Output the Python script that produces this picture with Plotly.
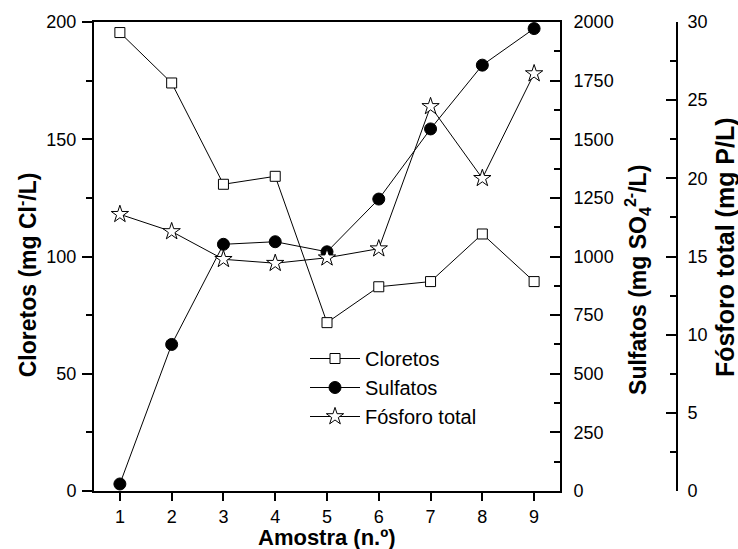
import plotly.graph_objects as go

amostra = [1, 2, 3, 4, 5, 6, 7, 8, 9]
cloretos = [195.5, 174.0, 130.8, 134.2, 71.8, 87.1, 89.3, 109.6, 89.3]
sulfatos = [30, 625, 1052, 1063, 1020, 1245, 1544, 1816, 1972]
fosforo = [17.7, 16.6, 14.82, 14.57, 14.92, 15.5, 24.6, 20.0, 26.7]

FONT = "Liberation Sans, Arial, sans-serif"
W, H = 738, 549
ML, MR, MT, MB = 94, 10, 22, 58
PW = W - ML - MR
PH = H - MT - MB
XEND = (560 - ML) / PW
Y3POS = (677 - ML) / PW

fig = go.Figure()
fig.add_trace(go.Scatter(
    x=amostra, y=cloretos, name="Cloretos", mode="lines+markers",
    line=dict(color="black", width=1),
    marker=dict(symbol="square", size=10, color="white", line=dict(color="black", width=1)),
    yaxis="y"))
fig.add_trace(go.Scatter(
    x=amostra, y=sulfatos, name="Sulfatos", mode="lines+markers",
    line=dict(color="black", width=1),
    marker=dict(symbol="circle", size=12, color="black", line=dict(color="black", width=1)),
    yaxis="y2"))
fig.add_trace(go.Scatter(
    x=amostra, y=fosforo, name="Fósforo total", mode="lines+markers",
    line=dict(color="black", width=1),
    marker=dict(symbol="star", size=13, color="white", line=dict(color="black", width=1)),
    yaxis="y3"))

tickfont = dict(family=FONT, size=18, color="black")
fig.update_layout(
    width=W, height=H,
    margin=dict(l=ML, r=MR, t=MT, b=MB),
    paper_bgcolor="white", plot_bgcolor="white",
    font=dict(family=FONT, color="black"),
    showlegend=True,
    legend=dict(x=(305 - ML) / PW, y=1 - (339 - MT) / PH, xanchor="left", yanchor="top",
                bgcolor="rgba(0,0,0,0)", font=dict(family=FONT, size=20, color="black"),
                itemwidth=50, tracegroupgap=0),
    xaxis=dict(domain=[0, XEND], range=[0.5, 9.5], tickvals=amostra,
               ticks="outside", ticklen=8, tickwidth=2, tickcolor="black",
               showline=True, linewidth=2, linecolor="black", mirror=True,
               showgrid=False, zeroline=False, tickfont=tickfont),
    yaxis=dict(range=[0, 200], dtick=50, ticks="outside", ticklen=10, tickwidth=2,
               tickcolor="black", showline=True, linewidth=2, linecolor="black",
               minor=dict(dtick=25, ticks="outside", ticklen=6, tickwidth=2, tickcolor="black"),
               showgrid=False, zeroline=False, tickfont=tickfont, ticklabelstandoff=2),
    yaxis2=dict(range=[0, 2000], dtick=250, overlaying="y", side="right", anchor="x",
                ticks="inside", ticklen=10, tickwidth=2, tickcolor="black",
                showline=True, linewidth=2, linecolor="black",
                minor=dict(dtick=125, ticks="inside", ticklen=6, tickwidth=2, tickcolor="black"),
                showgrid=False, zeroline=False, tickfont=tickfont, ticklabelstandoff=8),
    yaxis3=dict(range=[0, 30], dtick=5, overlaying="y", side="right", anchor="free",
                position=Y3POS, ticks="inside", ticklen=10, tickwidth=2, tickcolor="black",
                showline=True, linewidth=2, linecolor="black",
                minor=dict(dtick=2.5, ticks="inside", ticklen=6, tickwidth=2, tickcolor="black"),
                showgrid=False, zeroline=False, tickfont=tickfont, ticklabelstandoff=6),
)

def tfont(size):
    return dict(family=FONT, size=size, color="black", weight="bold")

fig.add_annotation(text="Amostra (n.º)", xref="paper", yref="paper",
                   x=XEND / 2, y=(491 - 537) / PH, xanchor="center", yanchor="middle",
                   showarrow=False, font=tfont(22))
fig.add_annotation(text="Cloretos (mg Cl<sup>-</sup>/L)", xref="paper", yref="paper",
                   x=(27 - ML) / PW, y=0.46, xanchor="center", yanchor="middle",
                   textangle=-90, showarrow=False, font=tfont(23))
fig.add_annotation(text="Sulfatos (mg SO<sub>4</sub><sup>2-</sup>/L)", xref="paper", yref="paper",
                   x=(637 - ML) / PW, y=0.45, xanchor="center", yanchor="middle",
                   textangle=-90, showarrow=False, font=tfont(23))
fig.add_annotation(text="Fósforo total (mg P/L)", xref="paper", yref="paper",
                   x=(725 - ML) / PW, y=0.52, xanchor="center", yanchor="middle",
                   textangle=-90, showarrow=False, font=tfont(25))

fig.write_html("out.html")
